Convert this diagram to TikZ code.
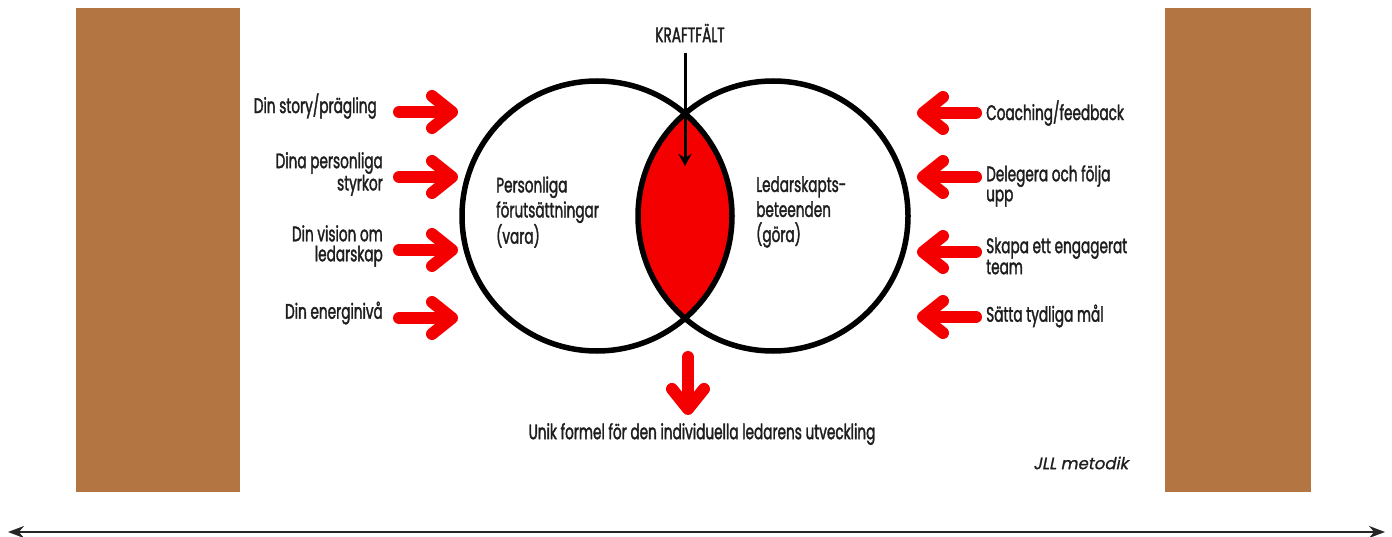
\documentclass[tikz,border=0pt]{standalone}
\usepackage{fontspec}
\setmainfont{Poppins}[FakeStretch=0.65,FakeBold=1.6]
\newfontfamily\jllfont{Poppins}[FakeSlant=0.2,FakeBold=1]
\usetikzlibrary{arrows.meta}
\usetikzlibrary{scopes}

\definecolor{panelbrown}{RGB}{179,118,66}
\definecolor{pushred}{RGB}{245,0,0}
\definecolor{ink}{RGB}{30,30,30}

\begin{document}
\begin{tikzpicture}[
    x=1pt,y=-1pt,
    panel/.style={fill=panelbrown,draw=none},
    ring/.style={circle,draw=black,line width=5.5pt,minimum size=270pt,inner sep=0pt},
    push/.style={draw=pushred,line width=12pt,line cap=round,-{Straight Barb[length=20pt,width=32pt,round]}},
    pointer/.style={draw=black,line width=3pt,-{Stealth[length=12pt,width=13pt]}},
    factor/.style={font=\fontsize{21}{20}\selectfont,text=ink,inner sep=0pt},
    inside/.style={font=\fontsize{21}{25}\selectfont,text=ink,inner sep=0pt,align=left,anchor=west},
    time/.style={draw=black!85,line width=2pt,{Stealth[length=16pt,width=12pt]}-{Stealth[length=16pt,width=12pt]}},
]
    \useasboundingbox (0,0) rectangle (1392,537);

    % side panels
    \fill[panel] (76,8) rectangle (240,492);
    \fill[panel] (1165,8) rectangle (1311,492);

    % the two circles and the force field between them
    \coordinate (varac) at (597,216);
    \coordinate (gorac) at (773,216);
    \begin{scope}
        \clip (varac) circle (135);
        \fill[pushred] (gorac) circle (135);
    \end{scope}
    \node[ring] (vara) at (varac) {};
    \node[ring] (gora) at (gorac) {};

    \node[inside] (personlig) at (496,212) {Personliga\\förutsättningar\\(vara)};
    \node[inside] (ledarskap) at (756,212) {Ledarskapts-\\beteenden\\(göra)};

    % force field label
    \node[factor] (kraft) at (690,33) {KRAFTFÄLT};
    \coordinate (kraftend) at (685,166);
    \draw[pointer,shorten <=11pt] (kraft.south -| kraftend) -- (kraftend);

    % what you are
    \node[factor,anchor=east] (story) at (377,106) {Din story/prägling};
    \node[factor,anchor=east,align=right] (styrkor) at (383,174) {Dina personliga\\styrkor};
    \node[factor,anchor=east,align=right] (vision) at (383,246) {Din vision om\\ledarskap};
    \node[factor,anchor=east] (energi) at (383,313) {Din energinivå};
    \foreach \y in {112,177,250,318}
        \draw[push] (399,\y) -- (458,\y);

    % what you do
    \node[factor,anchor=west] (coaching) at (986,113) {Coaching/feedback};
    \node[factor,anchor=west,align=left] (delegera) at (986,186) {Delegera och följa\\upp};
    \node[factor,anchor=west,align=left] (team) at (986,256) {Skapa ett engagerat\\team};
    \node[factor,anchor=west] (mal) at (986,316) {Sätta tydliga mål};
    \foreach \y in {113,177,252,317}
        \draw[push] (976,\y) -- (917,\y);

    % result
    \node[factor] (formel) at (702,434) {Unik formel för den individuella ledarens utveckling};
    \coordinate (drop) at (688,357);
    \draw[push,shorten >=8pt] (drop) -- (drop |- formel.north);

    \node[anchor=west,inner sep=0pt,text=ink,font=\jllfont\fontsize{16.5}{18}\selectfont] (jll) at (1033,463) {JLL metodik};

    % time line
    \coordinate (past) at (8,532);
    \coordinate (future) at (1385,532);
    \draw[time] (past) -- (future);
\end{tikzpicture}
\end{document}
